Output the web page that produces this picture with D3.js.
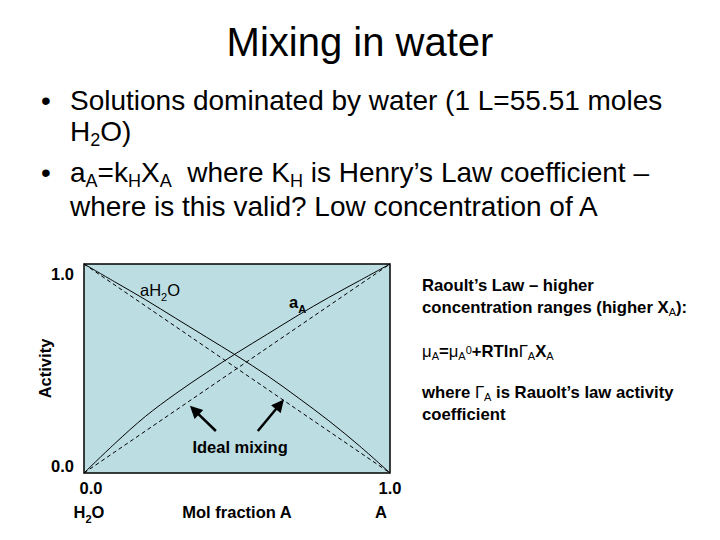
<!DOCTYPE html>
<html>
<head>
<meta charset="utf-8">
<script src="https://cdn.jsdelivr.net/npm/d3@7"></script>
<style>
  body { margin: 0; background: #fff; }
  svg { display: block; font-family: Arial, "Liberation Sans", sans-serif; }
</style>
</head>
<body>
<div id="chart"></div>
<script>
// mol fraction of A and activities
var molFraction = [0, 0.1, 0.2, 0.3, 0.4, 0.5, 0.6, 0.7, 0.8, 0.9, 1];
var activityA = [0, 0.14, 0.27, 0.38, 0.48, 0.575, 0.665, 0.755, 0.84, 0.92, 1];
var activityH2O = [1, 0.915, 0.83, 0.74, 0.65, 0.56, 0.465, 0.36, 0.25, 0.13, 0];

// ideal mixing (straight lines)
var idealX = [0, 1];
var idealA = [0, 1];
var idealH2O = [1, 0];

var xTickValues = [0, 1];
var xTickLabels = ["0.0", "1.0"];
var yTickValues = [0, 1];
var yTickLabels = ["0.0", "1.0"];

var width = 720, height = 540;

var svg = d3.select("#chart").append("svg")
    .attr("width", width)
    .attr("height", height);

// text with sub/superscripts: parts = [[string, "sub"|"sup"|"", weight]]
function rich(t, parts, shift, small) {
    var cur = 0;
    parts.forEach(function (p) {
        var target = p[1] === "sub" ? shift : (p[1] === "sup" ? -shift : 0);
        var ts = t.append("tspan").attr("dy", target - cur).text(p[0]);
        if (p[1]) ts.style("font-size", small);
        if (p[2]) ts.style("font-weight", p[2]);
        cur = target;
    });
}

// title
svg.append("text")
    .attr("x", 360).attr("y", 56)
    .attr("text-anchor", "middle")
    .style("font-size", "40px")
    .text("Mixing in water");

// bullets
var bullets = svg.append("g").style("font-size", "28px");
bullets.append("text").attr("x", 46).attr("y", 110).attr("text-anchor", "middle").text("•");
bullets.append("text").attr("x", 46).attr("y", 182).attr("text-anchor", "middle").text("•");

bullets.append("text").attr("x", 70).attr("y", 110)
    .text("Solutions dominated by water (1 L=55.51 moles");
rich(bullets.append("text").attr("x", 70).attr("y", 141),
    [["H", ""], ["2", "sub"], ["O)", ""]], 5, "18px");
rich(bullets.append("text").attr("x", 70).attr("y", 182),
    [["a", ""], ["A", "sub"], ["=k", ""], ["H", "sub"], ["X", ""], ["A", "sub"],
     ["\u00a0 where K", ""], ["H", "sub"], [" is Henry\u2019s Law coefficient \u2013", ""]],
    5, "18px");
bullets.append("text").attr("x", 70).attr("y", 216)
    .text("where is this valid? Low concentration of A");

// plot
var x = d3.scaleLinear().domain([0, 1]).range([84, 390]);
var y = d3.scaleLinear().domain([0, 1]).range([473, 264]);

var plot = svg.append("g");
plot.append("rect")
    .attr("x", x(0)).attr("y", y(1))
    .attr("width", x(1) - x(0)).attr("height", y(0) - y(1))
    .attr("fill", "#bcdee3")
    .attr("stroke", "#000")
    .attr("stroke-width", 1.5);

var line = d3.line()
    .x(function (d) { return x(d[0]); })
    .y(function (d) { return y(d[1]); })
    .curve(d3.curveCatmullRom);

function pairs(xs, ys) {
    return xs.map(function (v, i) { return [v, ys[i]]; });
}

[idealA, idealH2O].forEach(function (ys) {
    plot.append("path")
        .datum(pairs(idealX, ys))
        .attr("d", line).attr("fill", "none")
        .attr("stroke", "#000").attr("stroke-width", 1)
        .attr("stroke-dasharray", "4,3");
});
[activityA, activityH2O].forEach(function (ys) {
    plot.append("path")
        .datum(pairs(molFraction, ys))
        .attr("d", line).attr("fill", "none")
        .attr("stroke", "#000").attr("stroke-width", 1);
});

// labels inside the plot
var lab = svg.append("g").style("font-size", "16.5px");
rich(lab.append("text").attr("x", x(0.183)).attr("y", y(0.847)),
    [["aH", ""], ["2", "sub"], ["O", ""]], 5, "11px");
rich(lab.append("text").attr("x", x(0.67)).attr("y", y(0.79)).style("font-weight", "bold"),
    [["a", ""], ["A", "sub"]], 5, "11px");

lab.append("text")
    .attr("x", x(0.51)).attr("y", y(0.096))
    .attr("text-anchor", "middle")
    .style("font-weight", "bold")
    .text("Ideal mixing");

// arrows
svg.append("defs").append("marker")
    .attr("id", "head")
    .attr("viewBox", "0 0 10 10")
    .attr("refX", 8).attr("refY", 5)
    .attr("markerWidth", 5.5).attr("markerHeight", 5)
    .attr("orient", "auto")
    .append("path").attr("d", "M0,0L10,5L0,10Z").attr("fill", "#000");

var arrows = [
    [[0.431, 0.201], [0.352, 0.313]],
    [[0.568, 0.201], [0.648, 0.342]]
];
svg.selectAll(".arrow").data(arrows).enter().append("line")
    .attr("class", "arrow")
    .attr("x1", function (d) { return x(d[0][0]); })
    .attr("y1", function (d) { return y(d[0][1]); })
    .attr("x2", function (d) { return x(d[1][0]); })
    .attr("y2", function (d) { return y(d[1][1]); })
    .attr("stroke", "#000").attr("stroke-width", 2.5)
    .attr("marker-end", "url(#head)");

// axis labels
var ax = svg.append("g").style("font-size", "16.5px").style("font-weight", "bold");
ax.selectAll(".yt").data(yTickValues).enter().append("text")
    .attr("class", "yt")
    .attr("x", 74)
    .attr("y", function (d) { return y(d) + (d === 1 ? 16 : -1); })
    .attr("text-anchor", "end")
    .text(function (d, i) { return yTickLabels[i]; });

ax.selectAll(".xt").data(xTickValues).enter().append("text")
    .attr("class", "xt")
    .attr("x", function (d) { return x(d) + (d === 0 ? 7 : 0); })
    .attr("y", 494)
    .attr("text-anchor", "middle")
    .text(function (d, i) { return xTickLabels[i]; });

rich(ax.append("text").attr("x", x(0) + 5).attr("y", 518).attr("text-anchor", "middle"),
    [["H", ""], ["2", "sub"], ["O", ""]], 5, "11px");

ax.append("text").attr("x", x(1) - 9).attr("y", 518)
    .attr("text-anchor", "middle").text("A");

ax.append("text").attr("x", (x(0) + x(1)) / 2).attr("y", 518)
    .attr("text-anchor", "middle").text("Mol fraction A");

ax.append("text")
    .attr("transform", "translate(51," + ((y(0) + y(1)) / 2) + ") rotate(-90)")
    .attr("text-anchor", "middle")
    .text("Activity");

// Raoult's law note
var note = svg.append("g").style("font-size", "16.7px").style("font-weight", "bold");
var nx = 422;
note.append("text").attr("x", nx).attr("y", 291).text("Raoult\u2019s Law \u2013 higher");
rich(note.append("text").attr("x", nx).attr("y", 313),
    [["concentration ranges (higher X", ""], ["A", "sub", "normal"], ["):", ""]], 3, "11px");

rich(note.append("text").attr("x", nx).attr("y", 357),
    [["\u03bc", "", "normal"], ["A", "sub", "normal"], ["=", ""],
     ["\u03bc", "", "normal"], ["A", "sub", "normal"], ["0", "sup", "normal"],
     ["+RTln", ""], ["\u0393", "", "normal"], ["A", "sub", "normal"],
     ["X", ""], ["A", "sub", "normal"]], 3, "11px");

rich(note.append("text").attr("x", nx).attr("y", 398),
    [["where ", ""], ["\u0393", "", "normal"], ["A", "sub", "normal"],
     [" is Rauolt\u2019s law activity", ""]], 3, "11px");
note.append("text").attr("x", nx).attr("y", 420).text("coefficient");
</script>
</body>
</html>
